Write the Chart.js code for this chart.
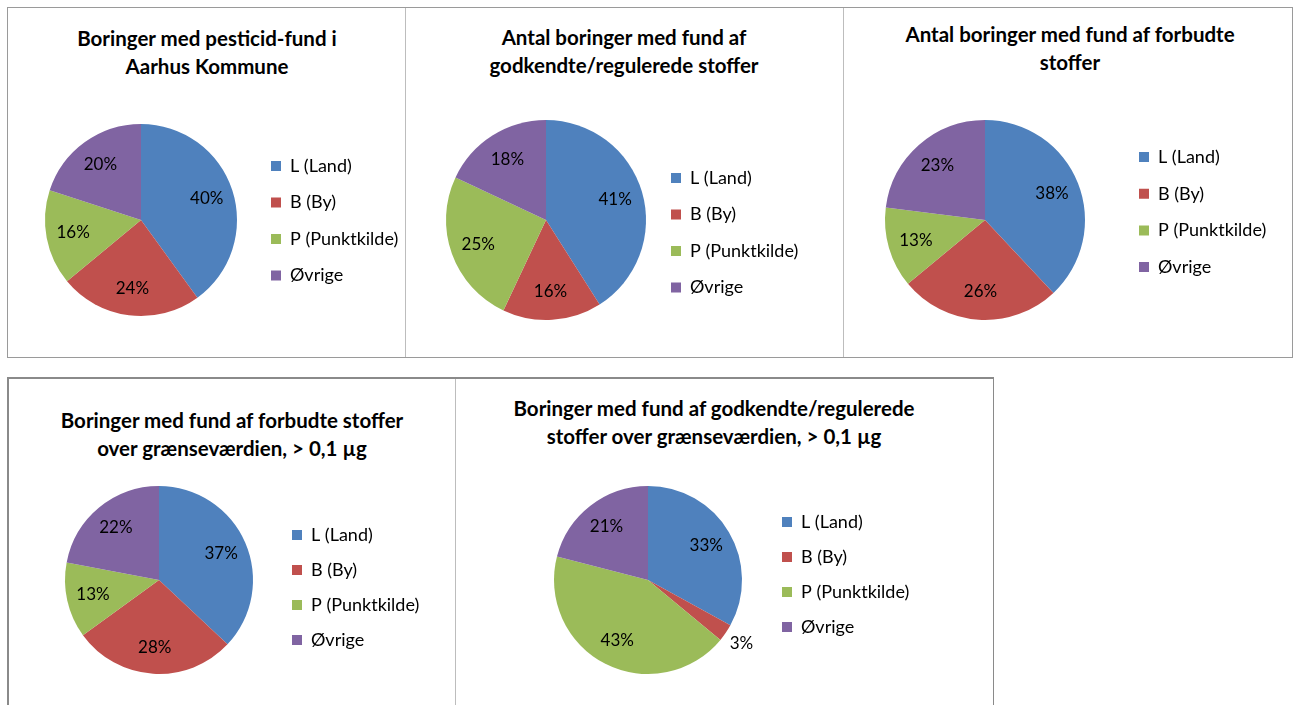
<!DOCTYPE html>
<html>
<head>
<meta charset="utf-8">
<script src="https://cdn.jsdelivr.net/npm/chart.js@4/dist/chart.umd.min.js"></script>
<style>
html,body{margin:0;padding:0;background:#fff;width:1299px;height:705px;overflow:hidden;position:relative;}
.frame{position:absolute;box-sizing:border-box;border:1px solid #9a9a9a;}
.vline{position:absolute;width:1px;background:#bdbdbd;}
.title{position:absolute;font-family:Lato,"DejaVu Sans",sans-serif;font-weight:bold;font-size:20.5px;line-height:28px;text-align:center;color:#000;white-space:nowrap;transform:translateX(-50%);}
canvas{position:absolute;}
</style>
</head>
<body>
<div class="frame" style="left:7px;top:7px;width:1286px;height:351px;"></div>
<div class="vline" style="left:405px;top:8px;height:349px;"></div>
<div class="vline" style="left:843px;top:8px;height:349px;"></div>
<div class="frame" style="left:7px;top:377px;width:987px;height:340px;border-color:#8a8a8a;border-width:2px 1px 1px 2px;"></div>
<div class="vline" style="left:455px;top:379px;height:330px;"></div>

<div class="title" id="t1"></div>
<div class="title" id="t2"></div>
<div class="title" id="t3"></div>
<div class="title" id="t4"></div>
<div class="title" id="t5"></div>

<canvas id="c1"></canvas>
<canvas id="c2"></canvas>
<canvas id="c3"></canvas>
<canvas id="c4"></canvas>
<canvas id="c5"></canvas>

<script>
// ---- data ----
const categories = ['L (Land)', 'B (By)', 'P (Punktkilde)', 'Øvrige'];
const pesticidFund = [40, 24, 16, 20];
const godkendteFund = [41, 16, 25, 18];
const forbudteFund = [38, 26, 13, 23];
const forbudteOverGraense = [37, 28, 13, 22];
const godkendteOverGraense = [33, 3, 43, 21];

const title1 = ['Boringer med pesticid-fund i', 'Aarhus Kommune'];
const title2 = ['Antal boringer med fund af', 'godkendte/regulerede stoffer'];
const title3 = ['Antal boringer med fund af forbudte', 'stoffer'];
const title4 = ['Boringer med fund af forbudte stoffer', 'over grænseværdien, > 0,1 µg'];
const title5 = ['Boringer med fund af godkendte/regulerede', 'stoffer over grænseværdien, > 0,1 µg'];

const sliceColors = ['#4F81BD', '#C0504D', '#9BBB59', '#8064A2'];

// ---- layout (page pixels) ----
const layouts = [
  {canvas:'c1', titleEl:'t1', title:title1, values:pesticidFund,
   frame:{x:7,y:7,w:398,h:350}, pie:{cx:141,cy:220,r:96}, legend:{x:271,y0:166,pitch:36.5}, head:{cx:207,y1:38}},
  {canvas:'c2', titleEl:'t2', title:title2, values:godkendteFund,
   frame:{x:405,y:7,w:438,h:350}, pie:{cx:546,cy:220,r:100}, legend:{x:671,y0:178,pitch:36.5}, head:{cx:624,y1:37}},
  {canvas:'c3', titleEl:'t3', title:title3, values:forbudteFund,
   frame:{x:843,y:7,w:449,h:350}, pie:{cx:985,cy:220,r:100}, legend:{x:1139,y0:157,pitch:36.7}, head:{cx:1070,y1:34}},
  {canvas:'c4', titleEl:'t4', title:title4, values:forbudteOverGraense,
   frame:{x:7,y:377,w:448,h:328}, pie:{cx:159,cy:580,r:94}, legend:{x:292,y0:535,pitch:35}, head:{cx:232,y1:420}},
  {canvas:'c5', titleEl:'t5', title:title5, values:godkendteOverGraense,
   frame:{x:455,y:377,w:538,h:328}, pie:{cx:648,cy:580,r:94}, legend:{x:782,y0:522,pitch:35}, head:{cx:714,y1:408}}
];

const FONT = 'Lato';
const FS = 17;     // percent labels
const LFS = 18;    // legend labels
const BOX = 10;
const EXTRA = 30;  // canvas reaches a little past the frame on the right

// natural legend width as Chart.js computes it
const mctx = document.createElement('canvas').getContext('2d');
mctx.font = LFS + 'px ' + FONT;
const maxTextW = Math.max(...categories.map(s => mctx.measureText(s).width));

const pctLabels = {
  id: 'pctLabels',
  afterDatasetsDraw(chart) {
    const ctx = chart.ctx;
    const meta = chart.getDatasetMeta(0);
    const vals = chart.data.datasets[0].data;
    ctx.save();
    ctx.font = FS + 'px ' + FONT;
    ctx.fillStyle = '#000';
    ctx.textAlign = 'center';
    ctx.textBaseline = 'middle';
    meta.data.forEach((arc, i) => {
      const p = arc.getProps(['x', 'y', 'startAngle', 'endAngle', 'outerRadius'], true);
      const mid = (p.startAngle + p.endAngle) / 2;
      const frac = (p.endAngle - p.startAngle) / (2 * Math.PI);
      const d = frac < 0.05 ? p.outerRadius + 19 : p.outerRadius * 0.72;
      ctx.fillText(vals[i] + '%', p.x + Math.cos(mid) * d, p.y + Math.sin(mid) * d);
    });
    ctx.restore();
  }
};

layouts.forEach(L => {
  // HTML title
  const t = document.getElementById(L.titleEl);
  t.innerHTML = L.title.join('<br>');
  t.style.left = L.head.cx + 'px';
  t.style.top = (L.head.y1 - 14) + 'px';

  const c = document.getElementById(L.canvas);
  const fr = L.frame;
  const cw = fr.w + EXTRA;
  c.width = cw; c.height = fr.h;
  c.style.left = fr.x + 'px'; c.style.top = fr.y + 'px';
  c.style.width = cw + 'px'; c.style.height = fr.h + 'px';

  const lpad = L.legend.pitch - LFS;
  const LW = lpad + BOX + LFS / 2 + maxTextW + 10;
  const legendLeft = L.legend.x - lpad;
  const caLeft = 2 * L.pie.cx - legendLeft;
  const padding = {
    left: caLeft - fr.x,
    right: Math.max(0, fr.x + cw - legendLeft - LW),
    top: L.pie.cy - L.pie.r - fr.y,
    bottom: fr.y + fr.h - (L.pie.cy + L.pie.r)
  };
  const legTitlePad = L.legend.y0 - (L.pie.cy - L.pie.r) - lpad - LFS / 2 - 1;

  new Chart(c, {
    type: 'pie',
    data: {
      labels: categories,
      datasets: [{
        data: L.values,
        backgroundColor: sliceColors,
        borderWidth: 0,
        hoverBorderWidth: 0,
        hoverOffset: 0
      }]
    },
    options: {
      responsive: false,
      animation: false,
      events: [],
      layout: {padding: padding},
      plugins: {
        title: {display: false},
        tooltip: {enabled: false},
        legend: {
          display: true,
          position: 'right',
          align: 'start',
          title: {display: true, text: '', font: {size: 1, lineHeight: 1}, padding: {top: legTitlePad, bottom: 0}},
          labels: {
            boxWidth: BOX,
            boxHeight: BOX,
            padding: lpad,
            color: '#000',
            font: {family: FONT, size: LFS}
          }
        }
      }
    },
    plugins: [pctLabels]
  });
});
</script>
</body>
</html>
